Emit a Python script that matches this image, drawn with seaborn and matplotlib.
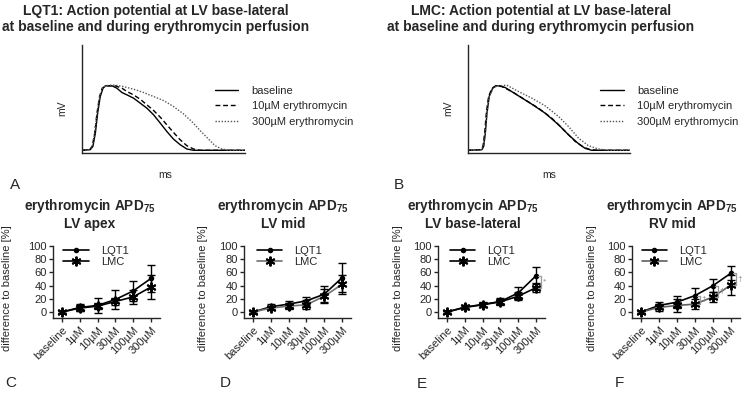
import numpy as np
import pandas as pd
import matplotlib
matplotlib.use("Agg")
import matplotlib.pyplot as plt
import seaborn as sns

# ---- data: action potential traces (arbitrary units) ----
a_base_t = [0, 5.1, 6.7, 8.2, 9.6, 11.2, 12.9, 14.3, 18.4, 21.4, 24.5, 27.6, 31.6, 35.7, 39.8, 43.9, 48.0, 52.0, 56.1, 60.2, 64.3, 68.4, 100]
a_base_v = [2.5, 3.1, 6.2, 18.5, 36.9, 52.3, 60.0, 62.2, 62.2, 60.0, 56.0, 53.8, 50.8, 46.2, 41.5, 35.4, 27.7, 20.0, 12.9, 7.7, 3.7, 2.5, 2.5]
a_10_t = [0, 4.7, 6.3, 7.8, 9.2, 10.8, 12.4, 14.9, 20.4, 24.5, 27.6, 31.6, 35.7, 39.8, 43.9, 48.0, 52.0, 56.1, 60.2, 64.3, 68.4, 72.4, 100]
a_10_v = [2.5, 3.1, 6.2, 18.5, 36.9, 52.3, 60.0, 62.2, 62.2, 60.0, 56.9, 53.8, 49.8, 44.6, 39.4, 33.2, 26.2, 19.1, 12.3, 6.8, 3.7, 2.5, 2.5]
a_300_t = [0, 4.7, 6.3, 7.8, 9.2, 10.8, 12.9, 16.3, 20.4, 25.5, 31.6, 37.8, 43.9, 50.0, 56.1, 62.2, 67.3, 72.4, 77.6, 81.6, 85.7, 90.8, 100]
a_300_v = [2.5, 3.1, 6.2, 18.5, 36.9, 52.3, 60.9, 62.8, 62.8, 61.5, 59.1, 56.0, 52.3, 48.6, 43.1, 36.3, 29.2, 20.9, 12.9, 6.8, 3.7, 2.5, 2.5]

b_base_t = [0, 8.6, 9.7, 10.7, 11.7, 13.1, 15.2, 17.2, 19.9, 23.0, 31.2, 39.4, 47.6, 55.9, 62.0, 68.2, 72.3, 76.4, 100]
b_base_v = [2.5, 3.1, 6.2, 18.5, 36.9, 52.3, 60.0, 62.2, 62.2, 60.6, 52.9, 45.2, 36.9, 26.2, 16.9, 8.6, 4.3, 2.5, 2.5]
b_10_t = [0, 8.2, 9.2, 10.3, 11.3, 12.7, 14.8, 17.2, 20.9, 27.1, 35.3, 43.5, 51.7, 60.0, 66.1, 71.3, 75.4, 80.5, 100]
b_10_v = [2.5, 3.1, 6.2, 18.5, 36.9, 52.3, 60.0, 62.2, 61.5, 56.9, 49.2, 41.5, 32.3, 20.0, 10.8, 5.5, 3.1, 2.5, 2.5]
b_300_t = [0, 8.6, 9.7, 10.7, 11.7, 13.1, 15.8, 18.9, 24.0, 31.2, 39.4, 47.6, 55.9, 62.0, 68.2, 74.3, 80.5, 86.7, 100]
b_300_v = [2.5, 3.1, 6.2, 18.5, 36.9, 52.3, 60.9, 62.2, 62.8, 56.9, 50.8, 43.7, 33.8, 24.6, 13.8, 6.8, 3.7, 2.5, 2.5]

trace_labels = ["baseline", "10µM erythromycin", "300µM erythromycin"]

# ---- data: APD75 change (%) per concentration ----
conc = ["baseline", "1µM", "10µM", "30µM", "100µM", "300µM"]

c_lqt1 = [0, 7, 10, 19, 32, 51]
c_lqt1_sd = [2, 5, 11, 15, 15, 20]
c_lmc = [0, 6, 9, 16, 23, 38]
c_lmc_sd = [2, 4, 5, 6, 11, 18]

d_lqt1 = [0, 8, 12, 17, 27, 52]
d_lqt1_sd = [2, 4, 5, 6, 12, 22]
d_lmc = [0, 6, 9, 11, 24, 42]
d_lmc_sd = [2, 3, 4, 7, 11, 14]

e_lqt1 = [0, 7.5, 11.5, 16, 29, 55]
e_lqt1_sd = [2, 3, 4, 5, 9, 13]
e_lmc = [0, 7, 11, 15.5, 24, 37]
e_lmc_sd = [2, 3, 3, 4, 6, 7]

f_lqt1 = [0, 10, 15, 25, 40, 59]
f_lqt1_sd = [2, 5, 9, 11, 10, 10]
f_lmc = [0, 7, 10, 12, 23, 41]
f_lmc_sd = [2, 5, 10, 8, 8, 15]

W, H = 744, 415


def px_axes(fig, left, top, right, bottom):
    return fig.add_axes([left / W, 1 - bottom / H, (right - left) / W, (bottom - top) / H])


def ap_panel(ax, traces):
    styles = [dict(color="black", linestyle="-"),
              dict(color="black", linestyle=(0, (3.5, 2))),
              dict(color="#555555", linestyle=(0, (1, 1.2)))]
    for (t, v), lab, st in zip(traces, trace_labels, styles):
        df = pd.DataFrame({"t": t, "v": v})
        sns.lineplot(data=df, x="t", y="v", ax=ax, lw=1.0, label=lab,
                     sort=False, estimator=None, **st)
    ax.set_xlim(0, 100)
    ax.set_ylim(0, 100)
    ax.set_xticks([])
    ax.set_yticks([])
    ax.set_xlabel("")
    ax.set_ylabel("")
    for s in ["top", "right"]:
        ax.spines[s].set_visible(False)
    for s in ["left", "bottom"]:
        ax.spines[s].set_linewidth(1.0)
    ax.legend(loc="upper left", bbox_to_anchor=(0.816, 0.625), frameon=False,
              fontsize=8, handlelength=2.1, handletextpad=1.2, labelspacing=0.5,
              borderpad=0, borderaxespad=0)


def apd_panel(ax, lqt1, lqt1_sd, lmc, lmc_sd, lmc_color, leg_x, ylab_x, brackets=(), mark="*"):
    x = np.arange(len(conc))
    ax.errorbar(x, lqt1, yerr=lqt1_sd, fmt="none", ecolor="black", elinewidth=1, capsize=3, capthick=1)
    ax.errorbar(x, lmc, yerr=lmc_sd, fmt="none", ecolor="black", elinewidth=1, capsize=3, capthick=1)
    sns.lineplot(x=x, y=lqt1, ax=ax, color="black", lw=1.2, marker="o", markersize=4,
                 markeredgewidth=0, label="LQT1", errorbar=None)
    sns.lineplot(x=x, y=lmc, ax=ax, color=lmc_color, lw=1.2, marker=(6, 2, 0), markersize=7,
                 markeredgewidth=1.4, markeredgecolor="black", label="LMC", errorbar=None)
    for i in brackets:
        xb0, xb1 = i + 0.1, i + 0.3
        ax.plot([xb0, xb1, xb1, xb0], [lqt1[i], lqt1[i], lmc[i], lmc[i]], color="#9a9a9a", lw=0.9)
        ax.text(xb1 + 0.08, (lqt1[i] + lmc[i]) / 2, mark, color="#8a8a8a", fontsize=6,
                ha="left", va="center")
    ax.set_xlim(-0.5, 5.5)
    ax.set_ylim(-9, 100)
    ax.set_yticks([0, 20, 40, 60, 80, 100])
    ax.set_xticks(x)
    ax.set_xticklabels(conc, rotation=45, ha="right", rotation_mode="anchor", fontsize=8)
    ax.tick_params(axis="y", labelsize=8, length=3, width=1, pad=1.5)
    ax.tick_params(axis="x", length=3, width=1, pad=2)
    for s in ["top", "right"]:
        ax.spines[s].set_visible(False)
    for s in ["left", "bottom"]:
        ax.spines[s].set_linewidth(1.0)
    ax.set_xlabel("")
    ax.set_ylabel("difference to baseline [%]", fontsize=8)
    ax.yaxis.set_label_coords(ylab_x, 0.42)
    ax.legend(loc="upper left", bbox_to_anchor=(leg_x, 1.0), frameon=False, fontsize=8,
              handlelength=2.3, handletextpad=1.1, labelspacing=0.05, borderpad=0,
              borderaxespad=0)


def main():
    sns.set_style("ticks")
    plt.rcParams["font.family"] = ["Liberation Sans", "DejaVu Sans"]
    plt.rcParams["mathtext.fontset"] = "custom"
    plt.rcParams["mathtext.rm"] = "Liberation Sans"
    plt.rcParams["mathtext.bf"] = "Liberation Sans:bold"

    fig = plt.figure(figsize=(W / 100, H / 100), dpi=100)

    # top action potential panels
    ax_a = px_axes(fig, 82, 45, 245, 153)
    ap_panel(ax_a, [(a_base_t, a_base_v), (a_10_t, a_10_v), (a_300_t, a_300_v)])
    ax_b = px_axes(fig, 468, 45, 630, 153)
    ap_panel(ax_b, [(b_base_t, b_base_v), (b_10_t, b_10_v), (b_300_t, b_300_v)])

    for cx, name in [(156, "LQT1"), (541, "LMC")]:
        fig.text(cx / W, 1 - 11 / H, f"{name}: Action potential at LV base-lateral",
                 ha="center", va="center", fontsize=10, fontweight="bold")
        fig.text(cx / W, 1 - 27 / H, "at baseline and during erythromycin perfusion",
                 ha="center", va="center", fontsize=10, fontweight="bold")
    for mx, sx in [(62, 165), (448, 549)]:
        fig.text(mx / W, 1 - 108 / H, "mV", rotation=90, ha="center", va="center", fontsize=7.5)
        fig.text(sx / W, 1 - 175 / H, "ms", ha="center", va="center", fontsize=7.5)

    # bottom APD75 panels
    top, bottom = 246, 318
    panels = [
        (53, 160, c_lqt1, c_lqt1_sd, c_lmc, c_lmc_sd, "black", 0.093, -0.38, (), "LV apex", 90),
        (244, 351, d_lqt1, d_lqt1_sd, d_lmc, d_lmc_sd, "#707070", 0.12, -0.336, (), "LV mid", 283),
        (438, 545, e_lqt1, e_lqt1_sd, e_lmc, e_lmc_sd, "black", 0.11, -0.327, (5,), "LV base-lateral", 473),
        (632, 740, f_lqt1, f_lqt1_sd, f_lmc, f_lmc_sd, "#606060", 0.09, -0.324, (3, 4, 5), "RV mid", 672),
    ]
    for i, (l, r, y1, s1, y2, s2, col, lx, yx, br, sub, tx) in enumerate(panels):
        ax = px_axes(fig, l, top, r, bottom)
        apd_panel(ax, y1, s1, y2, s2, col, lx, yx, brackets=br, mark="*" if i == 2 else "†")
        fig.text(tx / W, 1 - 206 / H, r"erythromycin APD$_{\mathregular{75}}$", ha="center",
                 va="center", fontsize=9.8, fontweight="bold")
        fig.text(tx / W, 1 - 224 / H, sub, ha="center", va="center", fontsize=9.8, fontweight="bold")

    for lab, x, y in [("A", 10, 185), ("B", 394, 185), ("C", 5, 383),
                      ("D", 220, 383), ("E", 417, 384), ("F", 615, 383)]:
        fig.text(x / W, 1 - y / H, lab, ha="left", va="center", fontsize=11)

    fig.savefig("out.png", dpi=100)


if __name__ == "__main__":
    main()
